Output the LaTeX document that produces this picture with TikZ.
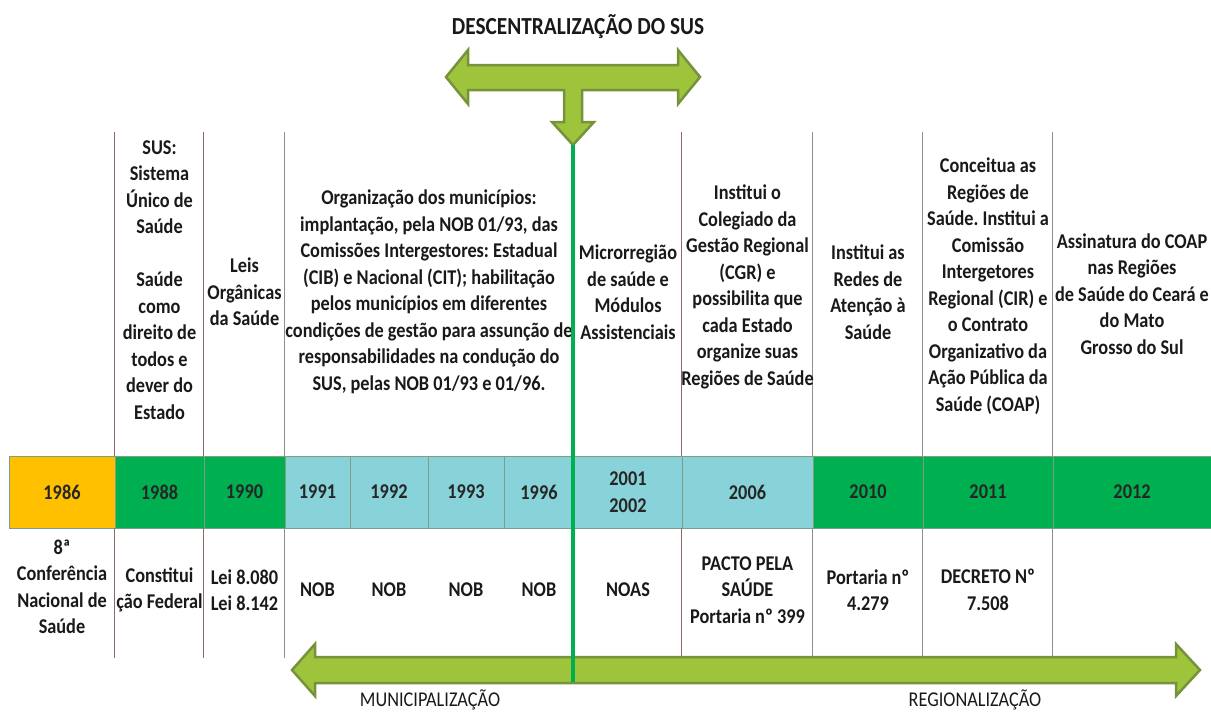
\documentclass[tikz,border=0pt]{standalone}
\usepackage{fontspec}
\setmainfont[FakeStretch=0.87]{Carlito}
\usetikzlibrary{positioning}
\frenchspacing
\definecolor{amarelo}{HTML}{FFC000}
\definecolor{verde}{HTML}{00B050}
\definecolor{ciano}{HTML}{88D3D9}
\definecolor{seta}{HTML}{9DC43B}
\definecolor{setaborda}{HTML}{76923C}
\definecolor{linha}{HTML}{8C6A6A}
\definecolor{linhacinza}{HTML}{8E8E8E}
\definecolor{celula}{HTML}{7E9E86}

\begin{document}
\begin{tikzpicture}[x=1pt,y=-1pt]
\tikzset{yr/.style={draw=celula, line width=0.8pt, minimum height=72pt, inner sep=0pt, text=black!85, align=center, font=\fontsize{21}{26.5}\selectfont\bfseries}}
\tikzset{txt/.style={align=center, inner sep=0pt, text=black!90, font=\fontsize{21}{26.5}\selectfont\bfseries}}
\tikzset{sep/.style={draw=linha, line width=1pt}}
\tikzset{sepg/.style={draw=linhacinza, line width=1pt}}
\tikzset{seta/.style={fill=seta, draw=setaborda, line width=2.5pt, line join=miter}}

\useasboundingbox (0,0) rectangle (1211,713);

% faixa dos anos
\begin{scope}[every node/.style={yr}]
\node [fill=amarelo, minimum width=106pt] (a86) at (62,492) {1986};
\node [fill=verde, minimum width=89pt] (a88) at (159.5,492) {1988};
\node [fill=verde, minimum width=81pt] (a90) at (244.5,492) {1990};
\node [fill=ciano, minimum width=65pt] (a91) at (317.5,492) {1991};
\node [fill=ciano, minimum width=78pt] (a92) at (389,492) {1992};
\node [fill=ciano, minimum width=76pt] (a93) at (466,492) {1993};
\node [fill=ciano, minimum width=70pt] (a96) at (539,492) {1996};
\node [fill=ciano, minimum width=108pt] (a01) at (628,492) {2001\\2002};
\node [fill=ciano, minimum width=131pt] (a06) at (747.5,492) {2006};
\node [fill=verde, minimum width=110pt] (a10) at (868,492) {2010};
\node [fill=verde, minimum width=130pt] (a11) at (988,492) {2011};
\node [fill=verde, minimum width=158pt] (a12) at (1132,492) {2012};
\end{scope}

% linhas das colunas
\foreach \c in {a88,a90} {
  \draw[sep] (\c.north west) -- ++(0,-324);
  \draw[sep] (\c.south west) -- ++(0,130);
}
\draw[sepg] (a91.north west) -- ++(0,-324);
\draw[sepg] (a91.south west) -- ++(0,130);
\draw[sep] (a06.north west) -- ++(0,-324);
\draw[sep] (a06.south west) -- ++(0,132);
\foreach \c in {a10,a11,a12} {
  \draw[sepg] (\c.north west) -- ++(0,-324);
  \draw[sepg] (\c.south west) -- ++(0,132);
}

% textos de cima
\begin{scope}[every node/.style={txt}]
\node (h88) at (159.5,280) {SUS:\\Sistema\\Único de\\Saúde\\[26.5pt]Saúde\\como\\direito de\\todos e\\dever do\\Estado};
\node (h90) at (244.5,292) {Leis\\Orgânicas\\da Saúde};
\node (h91) at (429,292) {Organização dos municípios:\\implantação, pela NOB 01/93, das\\Comissões Intergestores: Estadual\\(CIB) e Nacional (CIT); habilitação\\pelos municípios em diferentes\\condições de gestão para assunção de\\responsabilidades na condução do\\SUS, pelas NOB 01/93 e 01/96.};
\node (h01) at (628,292) {Microrregião\\de saúde e\\Módulos\\Assistenciais};
\node (h06) at (747.5,287) {Institui o\\Colegiado da\\Gestão Regional\\(CGR) e\\possibilita que\\cada Estado\\organize suas\\Regiões de Saúde};
\node (h10) at (868,292) {Institui as\\Redes de\\Atenção à\\Saúde};
\node (h11) at (988,286) {Conceitua as\\Regiões de\\Saúde. Institui a\\Comissão\\Intergetores\\Regional (CIR) e\\o Contrato\\Organizativo da\\Ação Pública da\\Saúde (COAP)};
\node (h12) at (1132,294) {Assinatura do COAP\\nas Regiões\\de Saúde do Ceará e\\do Mato\\Grosso do Sul};
\end{scope}

% textos de baixo
\begin{scope}[every node/.style={txt}]
\node (b86) at (62,587) {8ª\\Conferência\\Nacional de\\Saúde};
\node (b88) at (159.5,590) {Constitui\\ção Federal};
\node (b90) at (244.5,590) {Lei 8.080\\Lei 8.142};
\node (b91) at (317.5,590) {NOB};
\node (b92) at (389,590) {NOB};
\node (b93) at (466,590) {NOB};
\node (b96) at (539,590) {NOB};
\node (b01) at (628,590) {NOAS};
\node (b06) at (747.5,590) {PACTO PELA\\SAÚDE\\Portaria nº 399};
\node (b10) at (868,590) {Portaria nº\\4.279};
\node (b11) at (988,590) {DECRETO Nº\\7.508};
\end{scope}

% setas
\node [txt, font=\fontsize{24.5}{28}\selectfont\bfseries] (titulo) at (578,27) {DESCENTRALIZAÇÃO DO SUS};
\draw[seta] (446,77) -- (468,50) -- (468,65) -- (678,65) -- (678,50) -- (700,77) -- (678,104) -- (678,90)
  -- (582,90) -- (582,122) -- (594,122) -- (573,145) -- (552,122) -- (564,122) -- (564,90)
  -- (468,90) -- (468,104) -- cycle;
\draw[seta] (292,670) -- (315,644) -- (315,657) -- (1176,657) -- (1176,644) -- (1200,670)
  -- (1176,696) -- (1176,683) -- (315,683) -- (315,696) -- cycle;
\coordinate (topo) at (573,145);
\coordinate (fim) at (573,682);
\draw[verde, line width=3.5pt] (topo) -- (fim);

\node [txt, font=\fontsize{21}{26}\selectfont] (mun) at (430,700) {MUNICIPALIZAÇÃO};
\node [txt, font=\fontsize{21}{26}\selectfont] (reg) at (975,700) {REGIONALIZAÇÃO};

\end{tikzpicture}
\end{document}
